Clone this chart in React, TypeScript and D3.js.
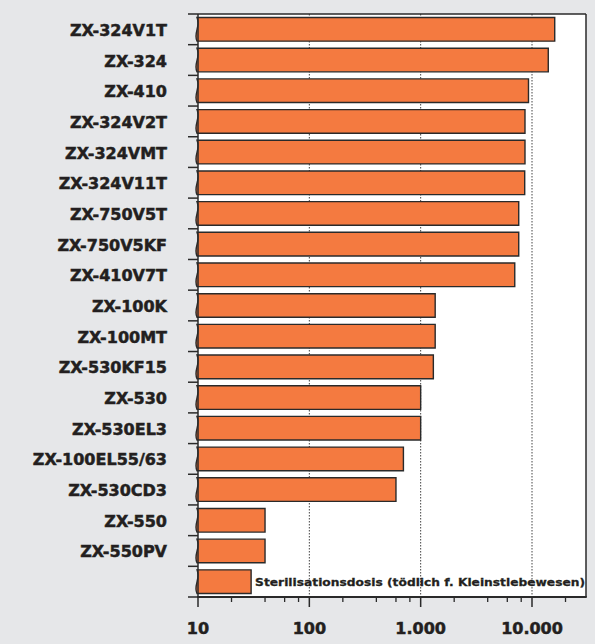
import React from "react";
import * as d3 from "d3";

const categories = [
  "ZX-324V1T", "ZX-324", "ZX-410", "ZX-324V2T", "ZX-324VMT", "ZX-324V11T",
  "ZX-750V5T", "ZX-750V5KF", "ZX-410V7T", "ZX-100K", "ZX-100MT", "ZX-530KF15",
  "ZX-530", "ZX-530EL3", "ZX-100EL55/63", "ZX-530CD3", "ZX-550", "ZX-550PV", "",
];
const values = [
  16000, 14000, 9300, 8650, 8650, 8600,
  7600, 7600, 7000, 1350, 1350, 1300,
  1000, 1000, 700, 600, 40, 40, 30,
];
const legendText = "Sterilisationsdosis (tödlich f. Kleinstlebewesen)";
const majorTicks = [10, 100, 1000, 10000];
const majorLabels = ["10", "100", "1.000", "10.000"];
const minorTicks = [
  20, 40, 60, 80, 200, 400, 600, 800, 2000, 4000, 6000, 8000, 20000,
];

const W = 595, H = 644;
const L = 198, R = 586, T = 14, B = 597;
const BG = "#E6E7E9";
const FILL = "#F47A40";
const DARK = "#2a2a2a";
const TXT = "#231f20";
const FONT = "'DejaVu Sans', Arial, sans-serif";

export default function App() {
  const x = d3.scaleLog().domain([10, 10000]).range([L, 532]);
  const y = d3
    .scaleBand<string>()
    .domain(categories.map((c, i) => c + "#" + i))
    .range([T, B])
    .paddingInner(0.23)
    .paddingOuter(0.115);
  const step = y.step();
  const keys = y.domain();

  const barPath = (v: number, k: string) => {
    const yt = y(k)!;
    const h = y.bandwidth();
    const yb = yt + h;
    const xe = x(v);
    const x0 = L - 1;
    return `M${x0},${yt} L${xe},${yt} L${xe},${yb} L${x0},${yb} C${x0 - 4},${yb - h * 0.35} ${x0 + 4},${yt + h * 0.4} ${x0},${yt} Z`;
  };

  return (
    <svg
      width={W}
      height={H}
      style={{ position: "absolute", left: 0, top: 0, display: "block" }}
    >
      <rect x={0} y={0} width={W} height={H} fill={BG} />
      <rect x={L} y={T} width={R - L} height={B - T} fill="#ffffff" />
      {majorTicks.slice(1).map((t) => (
        <line
          key={"g" + t}
          x1={x(t)}
          x2={x(t)}
          y1={T}
          y2={B}
          stroke="#444"
          strokeWidth={1}
          strokeDasharray="1.5,1.5"
        />
      ))}
      {values.map((v, i) => (
        <path
          key={"b" + i}
          d={barPath(v, keys[i])}
          fill={FILL}
          stroke={DARK}
          strokeWidth={1.4}
          strokeLinejoin="miter"
        />
      ))}
      <line x1={L} x2={R} y1={T} y2={T} stroke={DARK} strokeWidth={1.5} />
      <line x1={R} x2={R} y1={T} y2={B} stroke={DARK} strokeWidth={1.5} />
      <line x1={L} x2={L} y1={T} y2={B} stroke={DARK} strokeWidth={1.5} />
      <line x1={L - 1} x2={R + 0.75} y1={B} y2={B} stroke={DARK} strokeWidth={2} />
      {d3.range(categories.length + 1).map((i) => (
        <line
          key={"yt" + i}
          x1={188}
          x2={L}
          y1={T + i * step}
          y2={T + i * step}
          stroke={DARK}
          strokeWidth={1.5}
        />
      ))}
      {majorTicks.map((t) => (
        <line
          key={"mt" + t}
          x1={x(t)}
          x2={x(t)}
          y1={B}
          y2={B + 10}
          stroke={DARK}
          strokeWidth={1.5}
        />
      ))}
      {minorTicks.map((t) => (
        <line
          key={"mn" + t}
          x1={x(t)}
          x2={x(t)}
          y1={B}
          y2={B + 5}
          stroke={DARK}
          strokeWidth={1.3}
        />
      ))}
      {majorTicks.map((t, i) => (
        <text
          key={"ml" + t}
          x={x(t)}
          y={634}
          textAnchor="middle"
          fontFamily={FONT}
          fontWeight="bold"
          fontSize={16}
          fill={TXT}
          stroke={TXT}
          strokeWidth={0.5}
        >
          {majorLabels[i]}
        </text>
      ))}
      {categories.map((c, i) => (
        <text
          key={"c" + i}
          x={167}
          y={y(keys[i])! + y.bandwidth() / 2 + 6.5}
          textAnchor="end"
          fontFamily={FONT}
          fontWeight="bold"
          fontSize={16}
          fill={TXT}
          stroke={TXT}
          strokeWidth={0.5}
        >
          {c}
        </text>
      ))}
      <text
        x={x(values[values.length - 1]) + 4}
        y={y(keys[keys.length - 1])! + y.bandwidth() / 2 + 4.5}
        fontFamily={FONT}
        fontWeight="bold"
        fontSize={11.3}
        fill={TXT}
        stroke={TXT}
        strokeWidth={0.3}
        textLength={330}
        lengthAdjust="spacingAndGlyphs"
      >
        {legendText}
      </text>
    </svg>
  );
}
